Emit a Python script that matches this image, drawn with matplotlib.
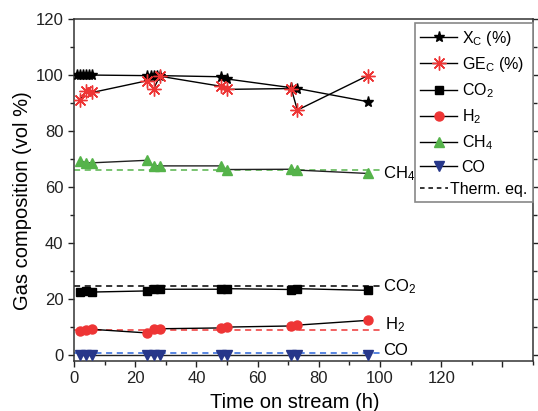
import matplotlib
matplotlib.use("Agg")
import matplotlib.pyplot as plt
from matplotlib.ticker import MultipleLocator, FixedLocator
from matplotlib.lines import Line2D
from matplotlib.legend_handler import HandlerBase

plt.rcParams['font.family'] = ['Liberation Sans', 'DejaVu Sans']
plt.rcParams['mathtext.default'] = 'regular'

# ---- data ----
t_xc = [1, 2, 3, 4, 5, 6, 24, 25, 26, 27, 28, 48, 50, 71, 73, 96]
xc = [100, 100, 100, 100, 100, 100, 99.8, 99.8, 99.8, 99.8, 99.8, 99.4, 98.6, 95.5, 95.2, 90.5]

t = [2, 4, 6, 24, 26, 28, 48, 50, 71, 73, 96]
ge = [91.1, 94.3, 93.8, 98.0, 95.0, 99.6, 96.0, 94.9, 95.2, 87.5, 99.8]
co2 = [22.6, 23.0, 22.6, 23.0, 23.6, 23.6, 23.6, 23.8, 23.5, 23.8, 23.2]
h2 = [8.6, 9.2, 9.3, 8.0, 9.4, 9.5, 9.8, 10.1, 10.5, 10.8, 12.5]
ch4 = [69.4, 68.7, 68.7, 69.6, 67.6, 67.6, 67.6, 66.3, 66.4, 66.1, 64.9]
co = [0.2, 0.2, 0.2, 0.2, 0.2, 0.2, 0.2, 0.2, 0.2, 0.2, 0.2]

eq_t = [0, 100]
eq_ch4 = 66.3
eq_co2 = 24.7
eq_h2 = 9.2
eq_co = 1.0

x_ticks = [0, 20, 40, 60, 80, 100, 120, 140]
x_tick_labels = ['0', '20', '40', '60', '80', '100', '120', '']
y_ticks = [0, 20, 40, 60, 80, 100, 120]

green = '#55b34a'
red = '#ee3535'
navy = '#27378a'
blue = '#2a64d8'

fig = plt.figure(figsize=(5.38, 4.11), dpi=100)
ax = fig.add_axes([74/538, 50/411, 459/538, 342/411])

dash = (0, (4, 3))
ax.plot(eq_t, [eq_ch4]*2, ls=dash, color=green, lw=1.1, zorder=1)
ax.plot(eq_t, [eq_co2]*2, ls=dash, color='black', lw=1.1, zorder=1)
ax.plot(eq_t, [eq_h2]*2, ls=dash, color=red, lw=1.1, zorder=1)
ax.plot(eq_t, [eq_co]*2, ls=dash, color=blue, lw=1.1, zorder=1)

lw = 1.0
ax.plot(t_xc, xc, '-', color='black', lw=lw, marker='*', ms=8, mfc='black', mec='black', zorder=3)
ax.plot(t, ge, '-', color='black', lw=lw, marker=(8, 2, 0), ms=10, mec=red, mew=1.0, zorder=3)
ax.plot(t, co2, '-', color='black', lw=lw, marker='s', ms=5.5, mfc='black', mec='black', zorder=3)
ax.plot(t, h2, '-', color='black', lw=lw, marker='o', ms=6.5, mfc=red, mec=red, zorder=3)
ax.plot(t, ch4, '-', color='#222222', lw=lw, marker='^', ms=7.5, mfc=green, mec=green, zorder=3)
ax.plot(t, co, '-', color='#222222', lw=lw, marker='v', ms=7, mfc=navy, mec=navy, zorder=3)

fs = 12
ax.text(101, 65.0, 'CH$_4$', fontsize=fs, va='center', ha='left')
ax.text(101, 24.4, 'CO$_2$', fontsize=fs, va='center', ha='left')
ax.text(101.7, 10.8, 'H$_2$', fontsize=fs, va='center', ha='left')
ax.text(101, 1.8, 'CO', fontsize=fs, va='center', ha='left')

ax.set_xlim(0, 150)
ax.set_ylim(-2, 120)
ax.xaxis.set_major_locator(FixedLocator(x_ticks))
ax.set_xticklabels(x_tick_labels)
ax.xaxis.set_minor_locator(MultipleLocator(10))
ax.yaxis.set_major_locator(FixedLocator(y_ticks))
ax.yaxis.set_minor_locator(MultipleLocator(10))
ax.tick_params(which='both', direction='out', labelsize=12, colors='#222222', width=1.0,
               right=True, top=False)
ax.tick_params(which='major', length=4.5, pad=3)
ax.tick_params(which='minor', length=3)
ax.tick_params(axis='y', labelright=False)
for s in ax.spines.values():
    s.set_linewidth(1.1)
    s.set_color('#333333')

ax.set_xlabel('Time on stream (h)', fontsize=14.5, labelpad=5, x=0.481)
ax.set_ylabel('Gas composition (vol %)', fontsize=14.5, labelpad=3, y=0.468)

DASH_W = 20.0  # points


class ShortDash(HandlerBase):
    def create_artists(self, legend, orig_handle, xdescent, ydescent, width, height,
                       fontsize, trans):
        y = height / 2 - ydescent
        ln = Line2D([-xdescent, -xdescent + DASH_W], [y, y], color='black',
                    lw=1.1, ls=(0, (3, 2.5)), transform=trans)
        return [ln]


therm = Line2D([], [], color='black', lw=1.1, ls=(0, (3, 2.5)))
handles = [
    Line2D([], [], color='black', lw=lw, marker='*', ms=8, mfc='black', mec='black'),
    Line2D([], [], color='black', lw=lw, marker=(8, 2, 0), ms=10, mec=red, mew=1.0),
    Line2D([], [], color='black', lw=lw, marker='s', ms=5.5, mfc='black', mec='black'),
    Line2D([], [], color='black', lw=lw, marker='o', ms=6.5, mfc=red, mec=red),
    Line2D([], [], color='black', lw=lw, marker='^', ms=7.5, mfc=green, mec=green),
    Line2D([], [], color='black', lw=lw, marker='v', ms=7, mfc=navy, mec=navy),
    therm,
]
labels = ['X$_C$ (%)', 'GE$_C$ (%)', 'CO$_2$', 'H$_2$', 'CH$_4$', 'CO', 'Therm. eq.']
leg = ax.legend(handles, labels, loc='upper right', bbox_to_anchor=(1.0, 0.988),
                borderaxespad=0, fontsize=11.5, frameon=True, fancybox=False,
                edgecolor='#888888', handlelength=2.3, handletextpad=0.3,
                labelspacing=0.46, borderpad=0.35, framealpha=1,
                handler_map={therm: ShortDash()})
leg.get_frame().set_linewidth(1.2)
# shorten the "Therm. eq." handle box so its text sits closer, as in the original
try:
    rows = leg._legend_handle_box.get_children()[0].get_children()
    rows[-1].get_children()[0].width = DASH_W
    rows[-1].sep = 1.5
except Exception:
    pass

fig.savefig('out.png', dpi=100)
